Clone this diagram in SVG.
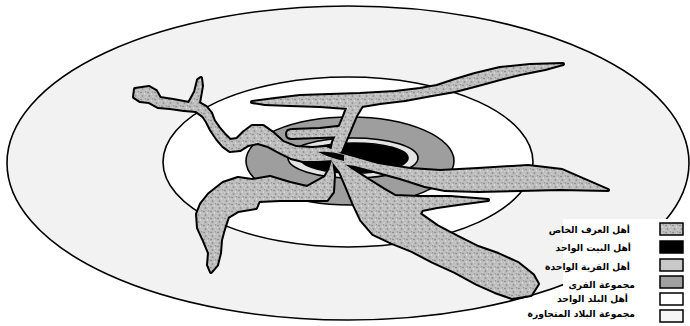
<svg xmlns="http://www.w3.org/2000/svg" xmlns:xlink="http://www.w3.org/1999/xlink" width="690" height="326" viewBox="0 0 690 326">
<defs>
<pattern id="spk" width="7" height="7" patternUnits="userSpaceOnUse">
<rect width="7" height="7" fill="#bdbdbd"/>
<circle cx="1" cy="1.5" r="0.8" fill="#808080"/>
<circle cx="4.5" cy="3" r="0.8" fill="#e6e6e6"/>
<circle cx="2.5" cy="5" r="0.9" fill="#959595"/>
<circle cx="6" cy="6" r="0.6" fill="#ebebeb"/>
<circle cx="5.6" cy="0.8" r="0.5" fill="#767676"/>
<circle cx="0.6" cy="3.8" r="0.5" fill="#dadada"/>
</pattern>
<path id="s1" d="M135,89 L149,87 L156,91 L160,98 L173,100 L189,103 L195,92 L198,80 L201,78 L202,86 L199,103 L206,107 L211,113 L214,121 L219,128 L225,135 L230,140 L237,139 L244,132 L252,126 L263,126 L273,133 L283,142 L296,147 L312,148 L326,147 L334,150 L334,160 L318,161 L303,161 L291,158 L279,152 L268,146 L258,143 L248,145 L240,150 L230,151 L223,146 L217,139 L211,130 L207,122 L203,116 L196,111 L184,110 L170,108 L158,107 L149,102 L140,101 L134,97 Z"/>
<path id="s2" d="M252,102 L275,99 L300,96 L330,95 L360,94 L395,92 L420,89 L437,86 L455,80 L475,74 L500,68 L530,65 L563,64 L545,69 L520,74 L500,79 L478,85 L455,91 L432,95 L405,100 L380,103 L362,106 L356,116 L351,128 L346,140 L341,152 L330,156 L333,142 L339,128 L344,116 L347,108 L320,106 L290,105 L265,104 Z"/>
<path id="s3" d="M332,160 L329,170 L325,177 L307,187 L290,183 L270,177 L252,180 L238,178 L223,183 L209,194 L201,204 L197,214 L198,228 L204,241 L209,253 L208,265 L211,272 L217,265 L220,253 L221,240 L224,229 L228,217 L238,211 L256,208 L259,201 L280,200 L305,200 L327,200 L333,192 L334,175 Z"/>
<path id="s4" d="M327,152 L337,158 L350,168 L367,179 L383,189 L395,196 L420,197 L450,197 L488,200 L458,204 L437,207 L422,210 L420,214 L437,226 L458,237 L478,247 L498,254 L518,263 L533,275 L538,284 L531,295 L512,298 L495,292 L477,284 L455,272 L433,262 L412,251 L392,243 L373,234 L361,220 L353,203 L346,186 L340,172 L333,163 Z"/>
<path id="s5" d="M328,150 L350,156 L378,164 L410,169 L440,171 L478,169 L528,166 L562,170 L608,190 L560,189 L520,190 L478,191 L445,190 L425,186 L400,178 L378,172 L355,166 L336,163 Z"/>
<path id="s6" d="M287,134 Q287,130 292,130 L320,129 L346,126 L346,136 L320,137 L292,138 Q287,138 287,134 Z"/>
</defs>
<style>
.ring{stroke:#000;stroke-width:1.6}
.out{fill:#000;stroke:#000;stroke-width:4;stroke-linejoin:round}
.in{fill:url(#spk);stroke:none}
.box{stroke:#000;stroke-width:1.5}
.lg{font-family:"DejaVu Sans","Noto Sans",sans-serif;font-size:9.2px;font-weight:bold;fill:#000;direction:rtl;text-anchor:start}
</style>
<rect width="690" height="326" fill="#fff"/>
<g id="rings">
<ellipse cx="348" cy="163" rx="341" ry="157" fill="#f2f2f2" class="ring"/>
<ellipse cx="348" cy="162" rx="185" ry="85" fill="#fff" class="ring"/>
<ellipse cx="350" cy="161" rx="104" ry="44" fill="#9e9e9e" class="ring"/>
<ellipse cx="353" cy="158" rx="65" ry="20" fill="#e4e4e4" class="ring"/>
<ellipse cx="354" cy="158" rx="54" ry="15" fill="#000" class="ring"/>
</g>
<g id="streaks">
<use xlink:href="#s1" class="out"/>
<use xlink:href="#s2" class="out"/>
<use xlink:href="#s3" class="out"/>
<use xlink:href="#s4" class="out"/>
<use xlink:href="#s5" class="out"/>
<use xlink:href="#s6" class="out"/>
<use xlink:href="#s1" class="in"/>
<use xlink:href="#s2" class="in"/>
<use xlink:href="#s3" class="in"/>
<use xlink:href="#s4" class="in"/>
<use xlink:href="#s5" class="in"/>
<use xlink:href="#s6" class="in"/>
<path d="M318,152 Q331,151 344,155 L344,161 Q330,158 318,152 Z" fill="#000"/>
</g>
<g id="legend">
<rect x="563" y="219" width="127" height="107" fill="#fff"/>
<rect x="660" y="223" width="23" height="12" fill="url(#spk)" class="box"/>
<rect x="660" y="241" width="23" height="12" fill="#000" class="box"/>
<rect x="660" y="259" width="23" height="12" fill="#c8c8c8" class="box"/>
<rect x="660" y="276" width="23" height="12" fill="#a0a0a0" class="box"/>
<rect x="660" y="293" width="23" height="12" fill="#fff" class="box"/>
<rect x="660" y="310" width="23" height="12" fill="#f6f6f6" class="box"/>
<text class="lg" x="630" y="233">أهل العرف الخاص</text>
<text class="lg" x="631" y="251">أهل البيت الواحد</text>
<text class="lg" x="630" y="270">أهل القرية الواحدة</text>
<text class="lg" x="635" y="288">مجموعة القرى</text>
<text class="lg" x="628" y="302">أهل البلد الواحد</text>
<text class="lg" x="635" y="317">مجموعة البلاد المتجاورة</text>
</g>
</svg>
